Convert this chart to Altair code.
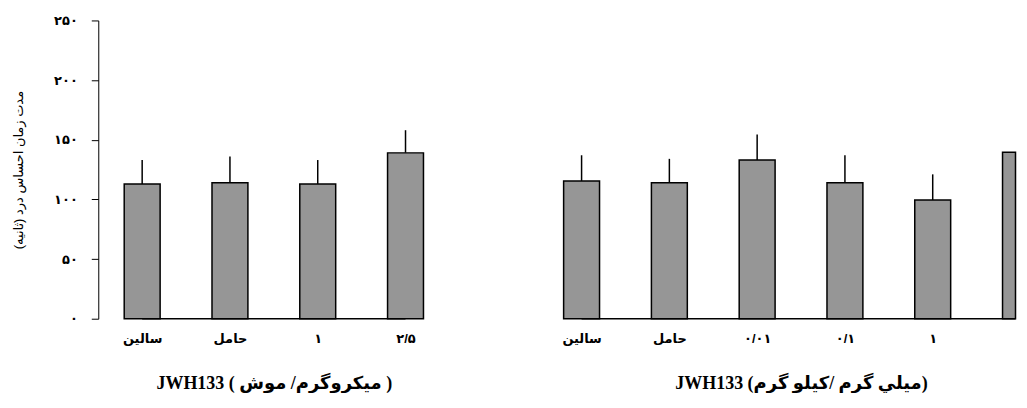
import altair as alt
import pandas as pd

# ---- data ----
left_categories = ["سالین", "حامل", "۱", "۲/۵"]
left_means = [113, 114, 113, 139]
left_sem = [20, 22, 20, 19]

right_categories = ["سالین", "حامل", "۰/۰۱", "۰/۱", "۱", "۵"]
right_means = [115.5, 114, 133, 114, 99.5, 139.5]
right_sem = [21.5, 20, 21.5, 23, 21.5, 13.5]

y_ticks = [0, 50, 100, 150, 200, 250]
y_tick_labels = ["۰", "۵۰", "۱۰۰", "۱۵۰", "۲۰۰", "۲۵۰"]

y_title = "مدت زمان احساس درد (ثانیه)\u200f"
left_title = "JWH133 ( میکروگرم/ موش )"
right_title = "JWH133 (میلي گرم /کیلو گرم)"


def ternary(pairs):
    s = ""
    for v, lab in pairs:
        s += f"datum.value == {v} ? '{lab}' : "
    return s + "''"


y_label_expr = ternary(zip(y_ticks, y_tick_labels))

BAR_FILL = "#969696"
SANS = "Liberation Sans, Arial, DejaVu Sans"
SERIF = "Liberation Serif, Times New Roman, DejaVu Sans"
BAND = 88          # pixels per category slot
BAR_W = 36         # bar width in pixels
HALF = BAR_W / 2 / BAND


def panel(cats, means, sems, title, width, show_y):
    n = len(cats)
    df = pd.DataFrame({"cat": cats, "idx": list(range(n)), "mean": means, "sem": sems})
    xmax = width / BAND
    centers = [i + 0.5 for i in range(n) if i + 0.5 <= xmax]

    xscale = alt.Scale(domain=[0, xmax], clamp=True, nice=False, zero=False)
    xaxis = alt.Axis(
        title=title,
        values=centers,
        labelExpr=ternary(zip(centers, cats)),
        grid=False,
        ticks=False,
        domain=False,
        labelAngle=0,
        labelPadding=14,
        labelFont=SANS,
        labelFontWeight="bold",
        labelFontSize=13,
        labelColor="black",
        titleFont=SERIF,
        titleFontWeight="bold",
        titleFontSize=18,
        titleColor="black",
        titlePadding=29,
        titleX=BAND * n / 2,
        titleAlign="center",
    )
    if show_y:
        yaxis = alt.Axis(
            title=y_title,
            values=y_ticks,
            labelExpr=y_label_expr,
            grid=False,
            tickSize=7,
            tickColor="black",
            tickWidth=1,
            domainColor="black",
            domainWidth=1,
            labelPadding=14,
            labelFont=SANS,
            labelFontWeight="bold",
            labelFontSize=13,
            labelColor="black",
            titleFont=SANS,
            titleFontWeight="normal",
            titleFontSize=13,
            titleColor="black",
            titlePadding=28.5,
        )
    else:
        yaxis = alt.Axis(labels=False, ticks=False, domain=False, grid=False, title="")
    yscale = alt.Scale(domain=[0, 250], nice=False)

    base = alt.Chart(df).transform_calculate(
        center="datum.idx + 0.5",
        lo=f"datum.idx + 0.5 - {HALF}",
        hi=f"datum.idx + 0.5 + {HALF}",
        top="datum.mean + datum.sem",
        zero="0",
    )
    bars = base.mark_bar(fill=BAR_FILL, stroke="black", strokeWidth=1.5).encode(
        x=alt.X("lo:Q", scale=xscale, axis=xaxis),
        x2="hi:Q",
        y=alt.Y("mean:Q", scale=yscale, axis=yaxis),
        y2="zero:Q",
    )
    err = base.transform_filter(f"datum.center <= {xmax}").mark_rule(
        color="black", strokeWidth=1.5
    ).encode(x="center:Q", y="mean:Q", y2="top:Q")
    baseline = base.mark_line(color="black", strokeWidth=1.5).encode(
        x="center:Q", y="zero:Q"
    )
    return alt.layer(err, bars, baseline).properties(width=width, height=299)


left = panel(left_categories, left_means, left_sem, left_title, 352, True)
right = panel(right_categories, right_means, right_sem, right_title, 479, False)

chart = (
    alt.hconcat(left, right, spacing=88.5)
    .properties(padding={"left": 3.5, "top": 6, "right": 0, "bottom": 0})
    .configure_view(strokeWidth=0)
)

chart.save("out.html", embed_options={"renderer": "svg", "actions": False})
